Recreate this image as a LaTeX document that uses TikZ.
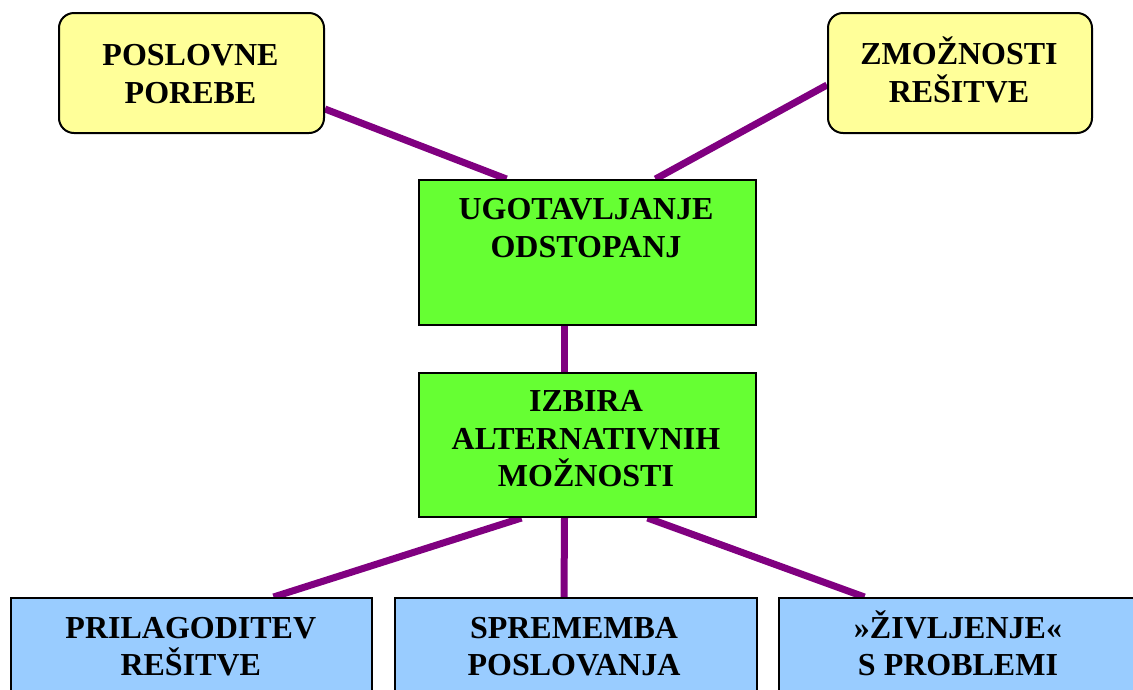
\documentclass[tikz,border=0pt]{standalone}
\usepackage{fontspec}
\setmainfont{Liberation Serif}
\usetikzlibrary{backgrounds}

\definecolor{needyellow}{HTML}{FFFF99}
\definecolor{stagegreen}{HTML}{66FF33}
\definecolor{outblue}{HTML}{99CCFF}
\definecolor{linkpurple}{HTML}{800080}

\tikzset{
  box/.style={draw=black, line width=2pt, inner sep=0pt, anchor=north west},
  sourcebox/.style={box, fill=needyellow, rounded corners=15pt},
  stagebox/.style={box, fill=stagegreen},
  outcomebox/.style={box, fill=outblue},
  caption/.style={anchor=north, inner sep=0pt, align=center,
    font=\fontsize{32}{37.5}\selectfont\bfseries},
  link/.style={draw=linkpurple, line width=7pt},
}
\newcommand{\firstline}{\rule{0pt}{30pt}}

\begin{document}
\begin{tikzpicture}[x=1pt, y=-1pt]
  \useasboundingbox (0,0) rectangle (1133,689);
  \clip (0,0) rectangle (1133,689);

  % inputs
  \node[sourcebox, minimum width=265pt, minimum height=120pt] (pb) at (58,12) {};
  \node[sourcebox, minimum width=264pt, minimum height=120pt] (zm) at (827,12) {};
  % analysis steps
  \node[stagebox, minimum width=337pt, minimum height=145pt] (ug) at (418,179) {};
  \node[stagebox, minimum width=337pt, minimum height=144pt] (iz) at (418,372) {};
  % outcomes
  \node[outcomebox, minimum width=361pt, minimum height=130pt] (pr) at (10,597) {};
  \node[outcomebox, minimum width=362pt, minimum height=130pt] (sp) at (394,597) {};
  \node[outcomebox, minimum width=361pt, minimum height=130pt] (zi) at (778,597) {};

  % texts
  \node[caption] (pbt) at (190.5,35.6) {\firstline POSLOVNE\\POREBE};
  \node[caption] (zmt) at (959,34.3) {\firstline ZMOŽNOSTI\\REŠITVE};
  \node[caption] (ugt) at (586,189.6) {\firstline UGOTAVLJANJE\\ODSTOPANJ};
  \node[caption] (izt) at (586,381.6) {\firstline IZBIRA\\ALTERNATIVNIH\\MOŽNOSTI};
  \node[caption] (prt) at (190.8,608.1) {\firstline PRILAGODITEV\\REŠITVE};
  \node[caption] (spt) at (574,608.1) {\firstline SPREMEMBA\\POSLOVANJA};
  \node[caption] (zit) at (958,608.1) {\firstline »ŽIVLJENJE«\\S PROBLEMI};

  % connectors
  \begin{pgfonlayer}{background}
    \draw[link] ([yshift=-36pt]pb.east) -- ([xshift=-81pt]ug.north);
    \draw[link] ([yshift=-12pt]zm.west) -- ([xshift=68pt]ug.north);
    \draw[link] ([xshift=-23pt]ug.south) -- ([xshift=-23pt]iz.north);
    \draw[link] ([xshift=-66pt]iz.south) -- ([xshift=82pt]pr.north);
    \draw[link] ([xshift=-23pt]iz.south) -- ([xshift=-12pt]sp.north);
    \draw[link] ([xshift=60pt]iz.south) -- ([xshift=-95pt]zi.north);
  \end{pgfonlayer}
\end{tikzpicture}
\end{document}
